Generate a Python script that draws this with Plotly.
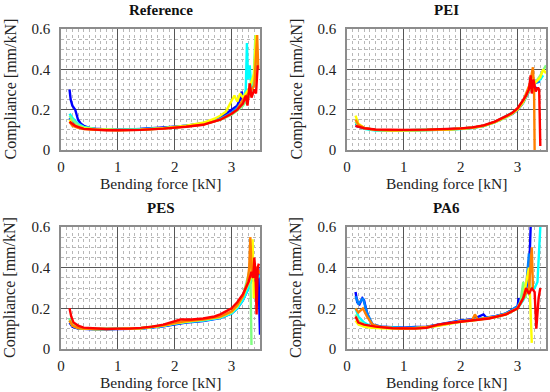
import plotly.graph_objects as go

# ---------------- data ----------------
COLORS = ["#0000ff", "#0080ff", "#00ffff", "#80ff80", "#ffff00", "#ff8000", "#ff0000"]
PANEL_TITLES = ["Reference", "PEI", "PES", "PA6"]
X_TICKS = [0, 1, 2, 3]
Y_TICKS = [0, 0.2, 0.4, 0.6]
Y_TICK_TEXT = ["0", "0.2", "0.4", "0.6"]

# Reference panel
REF_BLUE_X = [0.15, 0.17, 0.2, 0.22, 0.25, 0.28, 0.3, 0.35, 0.4, 0.5, 0.6, 0.8, 1.0, 1.2, 1.4, 1.6, 1.8, 2.0, 2.2, 2.4, 2.5, 2.6, 2.7, 2.8, 2.9, 3.0, 3.05, 3.1, 3.15, 3.18, 3.2, 3.25, 3.3, 3.35]
REF_BLUE_Y = [0.30, 0.25, 0.22, 0.21, 0.20, 0.17, 0.15, 0.13, 0.12, 0.11, 0.106, 0.102, 0.101, 0.102, 0.104, 0.107, 0.111, 0.116, 0.121, 0.128, 0.133, 0.14, 0.15, 0.165, 0.18, 0.20, 0.21, 0.22, 0.25, 0.29, 0.24, 0.27, 0.30, 0.33]
REF_AZURE_X = [0.15, 0.2, 0.3, 0.4, 0.6, 0.8, 1.0, 1.4, 1.8, 2.2, 2.5, 2.8, 3.0, 3.1, 3.2, 3.3, 3.4]
REF_AZURE_Y = [0.16, 0.14, 0.12, 0.11, 0.104, 0.1, 0.1, 0.103, 0.109, 0.12, 0.13, 0.155, 0.185, 0.21, 0.24, 0.28, 0.32]
REF_CYAN_X = [0.15, 0.2, 0.3, 0.4, 0.6, 0.8, 1.0, 1.4, 1.8, 2.2, 2.5, 2.8, 3.0, 3.1, 3.2, 3.25, 3.27, 3.29, 3.32, 3.35, 3.38, 3.4]
REF_CYAN_Y = [0.18, 0.16, 0.13, 0.115, 0.105, 0.101, 0.1, 0.102, 0.108, 0.118, 0.128, 0.152, 0.178, 0.2, 0.24, 0.3, 0.53, 0.35, 0.42, 0.3, 0.35, 0.31]
REF_GREEN_X = [0.15, 0.2, 0.3, 0.4, 0.6, 0.8, 1.0, 1.4, 1.8, 2.2, 2.5, 2.8, 3.0, 3.1, 3.2, 3.3, 3.38, 3.42, 3.44]
REF_GREEN_Y = [0.17, 0.15, 0.125, 0.112, 0.104, 0.1, 0.099, 0.101, 0.107, 0.117, 0.127, 0.15, 0.175, 0.195, 0.22, 0.26, 0.31, 0.57, 0.35]
REF_YELLOW_X = [0.15, 0.2, 0.3, 0.4, 0.6, 0.8, 1.0, 1.4, 1.8, 2.2, 2.5, 2.7, 2.8, 2.9, 3.0, 3.05, 3.1, 3.15, 3.2, 3.3, 3.4, 3.43]
REF_YELLOW_Y = [0.15, 0.13, 0.115, 0.108, 0.102, 0.1, 0.099, 0.101, 0.108, 0.12, 0.135, 0.155, 0.17, 0.19, 0.24, 0.27, 0.24, 0.28, 0.26, 0.3, 0.38, 0.57]
REF_ORANGE_X = [0.15, 0.2, 0.3, 0.4, 0.6, 0.8, 1.0, 1.4, 1.8, 2.2, 2.5, 2.8, 3.0, 3.1, 3.2, 3.3, 3.35, 3.4, 3.45, 3.47]
REF_ORANGE_Y = [0.14, 0.12, 0.11, 0.104, 0.1, 0.098, 0.098, 0.1, 0.106, 0.116, 0.126, 0.15, 0.18, 0.2, 0.25, 0.28, 0.3, 0.32, 0.57, 0.4]
REF_RED_X = [0.15, 0.2, 0.25, 0.4, 0.6, 0.8, 1.0, 1.4, 1.8, 2.0, 2.2, 2.5, 2.8, 3.0, 3.1, 3.2, 3.25, 3.28, 3.32, 3.35, 3.4, 3.43, 3.46]
REF_RED_Y = [0.14, 0.13, 0.12, 0.105, 0.1, 0.098, 0.098, 0.1, 0.106, 0.11, 0.115, 0.125, 0.15, 0.18, 0.2, 0.23, 0.27, 0.22, 0.33, 0.26, 0.3, 0.28, 0.42]

# PEI panel
PEI_BLUE_X = [0.15, 0.2, 0.3, 0.5, 0.8, 1.0, 1.4, 1.8, 2.0, 2.2, 2.4, 2.6, 2.8, 2.9, 3.0, 3.1, 3.2, 3.25, 3.3, 3.35]
PEI_BLUE_Y = [0.12, 0.115, 0.108, 0.1, 0.098, 0.098, 0.1, 0.103, 0.106, 0.11, 0.12, 0.138, 0.163, 0.178, 0.198, 0.235, 0.29, 0.33, 0.3, 0.31]
PEI_AZURE_X = [0.15, 0.2, 0.3, 0.5, 0.8, 1.0, 1.4, 1.8, 2.0, 2.2, 2.4, 2.6, 2.8, 2.9, 3.0, 3.1, 3.2, 3.3, 3.4]
PEI_AZURE_Y = [0.13, 0.12, 0.108, 0.1, 0.097, 0.097, 0.099, 0.102, 0.105, 0.11, 0.12, 0.14, 0.165, 0.18, 0.2, 0.24, 0.3, 0.33, 0.34]
PEI_CYAN_X = [0.15, 0.2, 0.3, 0.5, 0.8, 1.0, 1.4, 1.8, 2.0, 2.2, 2.4, 2.6, 2.8, 2.9, 3.0, 3.1, 3.2, 3.3, 3.4, 3.45]
PEI_CYAN_Y = [0.14, 0.12, 0.105, 0.097, 0.095, 0.096, 0.098, 0.101, 0.104, 0.109, 0.118, 0.138, 0.168, 0.184, 0.205, 0.24, 0.3, 0.34, 0.35, 0.37]
PEI_GREEN_X = [0.15, 0.2, 0.3, 0.5, 0.8, 1.0, 1.4, 1.8, 2.0, 2.2, 2.4, 2.6, 2.8, 2.9, 3.0, 3.1, 3.2, 3.3, 3.4, 3.5]
PEI_GREEN_Y = [0.14, 0.12, 0.107, 0.099, 0.097, 0.097, 0.099, 0.102, 0.105, 0.11, 0.119, 0.137, 0.162, 0.178, 0.2, 0.235, 0.29, 0.33, 0.37, 0.42]
PEI_YELLOW_X = [0.15, 0.2, 0.3, 0.5, 0.8, 1.0, 1.4, 1.8, 2.0, 2.2, 2.4, 2.6, 2.8, 2.9, 3.0, 3.1, 3.2, 3.3, 3.4, 3.45, 3.5]
PEI_YELLOW_Y = [0.17, 0.13, 0.11, 0.1, 0.097, 0.097, 0.099, 0.102, 0.105, 0.11, 0.12, 0.138, 0.165, 0.18, 0.2, 0.24, 0.3, 0.33, 0.36, 0.4, 0.38]
PEI_ORANGE_X = [0.15, 0.2, 0.3, 0.5, 0.8, 1.0, 1.4, 1.8, 2.0, 2.2, 2.4, 2.6, 2.8, 2.9, 3.0, 3.1, 3.15, 3.22, 3.27, 3.29, 3.3]
PEI_ORANGE_Y = [0.15, 0.125, 0.11, 0.1, 0.098, 0.098, 0.1, 0.103, 0.106, 0.11, 0.12, 0.14, 0.166, 0.182, 0.205, 0.245, 0.28, 0.33, 0.41, 0.3, 0.0]
PEI_RED_X = [0.15, 0.2, 0.3, 0.5, 0.8, 1.0, 1.4, 1.8, 2.0, 2.2, 2.4, 2.6, 2.8, 2.9, 3.0, 3.1, 3.15, 3.2, 3.23, 3.25, 3.28, 3.32, 3.36, 3.38, 3.4]
PEI_RED_Y = [0.12, 0.115, 0.108, 0.102, 0.1, 0.1, 0.101, 0.104, 0.107, 0.112, 0.122, 0.141, 0.167, 0.183, 0.207, 0.245, 0.27, 0.3, 0.37, 0.28, 0.35, 0.29, 0.31, 0.3, 0.02]

# PES panel
PES_BLUE_X = [0.15, 0.2, 0.3, 0.4, 0.6, 0.8, 1.0, 1.4, 1.8, 2.0, 2.2, 2.5, 2.8, 3.0, 3.1, 3.2, 3.3, 3.35, 3.4, 3.47, 3.5]
PES_BLUE_Y = [0.13, 0.11, 0.1, 0.098, 0.097, 0.097, 0.098, 0.1, 0.112, 0.122, 0.13, 0.138, 0.152, 0.175, 0.2, 0.24, 0.3, 0.38, 0.33, 0.4, 0.07]
PES_AZURE_X = [0.15, 0.2, 0.3, 0.4, 0.6, 0.8, 1.0, 1.4, 1.8, 2.0, 2.2, 2.5, 2.8, 3.0, 3.1, 3.2, 3.3, 3.4, 3.45]
PES_AZURE_Y = [0.14, 0.115, 0.102, 0.099, 0.098, 0.098, 0.099, 0.101, 0.113, 0.124, 0.132, 0.14, 0.155, 0.178, 0.205, 0.245, 0.31, 0.36, 0.33]
PES_CYAN_X = [0.15, 0.2, 0.3, 0.4, 0.6, 0.8, 1.0, 1.4, 1.8, 2.0, 2.2, 2.5, 2.8, 3.0, 3.1, 3.2, 3.3, 3.4, 3.45, 3.5]
PES_CYAN_Y = [0.15, 0.12, 0.104, 0.1, 0.098, 0.098, 0.099, 0.102, 0.114, 0.125, 0.133, 0.14, 0.153, 0.175, 0.2, 0.24, 0.3, 0.38, 0.35, 0.36]
PES_GREEN_X = [0.15, 0.2, 0.3, 0.4, 0.6, 0.8, 1.0, 1.4, 1.8, 2.0, 2.2, 2.5, 2.8, 3.0, 3.1, 3.2, 3.28, 3.33, 3.35]
PES_GREEN_Y = [0.15, 0.12, 0.105, 0.1, 0.098, 0.098, 0.099, 0.102, 0.115, 0.127, 0.135, 0.142, 0.156, 0.18, 0.21, 0.26, 0.34, 0.4, 0.02]
PES_YELLOW_X = [0.15, 0.2, 0.3, 0.4, 0.6, 0.8, 1.0, 1.4, 1.8, 2.0, 2.2, 2.5, 2.8, 3.0, 3.1, 3.2, 3.3, 3.35, 3.37, 3.39, 3.45]
PES_YELLOW_Y = [0.14, 0.115, 0.103, 0.1, 0.098, 0.098, 0.099, 0.102, 0.115, 0.126, 0.134, 0.143, 0.158, 0.183, 0.21, 0.26, 0.33, 0.36, 0.54, 0.25, 0.37]
PES_ORANGE_X = [0.15, 0.2, 0.3, 0.4, 0.6, 0.8, 1.0, 1.4, 1.8, 2.0, 2.2, 2.5, 2.8, 3.0, 3.1, 3.2, 3.28, 3.31, 3.33, 3.36, 3.4, 3.45, 3.5]
PES_ORANGE_Y = [0.14, 0.115, 0.103, 0.1, 0.098, 0.098, 0.099, 0.102, 0.116, 0.128, 0.137, 0.145, 0.16, 0.185, 0.215, 0.26, 0.33, 0.4, 0.55, 0.35, 0.38, 0.4, 0.37]
PES_RED_X = [0.15, 0.18, 0.22, 0.3, 0.4, 0.6, 0.8, 1.0, 1.2, 1.4, 1.6, 1.8, 2.0, 2.1, 2.3, 2.5, 2.7, 2.8, 2.9, 3.0, 3.1, 3.2, 3.25, 3.3, 3.35, 3.38, 3.4, 3.42, 3.44, 3.46, 3.48]
PES_RED_Y = [0.2, 0.16, 0.13, 0.115, 0.105, 0.1, 0.098, 0.1, 0.1, 0.104, 0.11, 0.12, 0.135, 0.145, 0.145, 0.15, 0.16, 0.17, 0.185, 0.2, 0.23, 0.27, 0.3, 0.33, 0.38, 0.35, 0.45, 0.38, 0.17, 0.4, 0.42]

# PA6 panel
PA6_BLUE_X = [0.15, 0.18, 0.22, 0.27, 0.3, 0.35, 0.4, 0.45, 0.6, 0.8, 1.0, 1.2, 1.4, 1.6, 1.8, 2.0, 2.2, 2.4, 2.45, 2.6, 2.8, 3.0, 3.02, 3.05, 3.1, 3.15, 3.2, 3.23]
PA6_BLUE_Y = [0.28, 0.23, 0.22, 0.25, 0.24, 0.18, 0.14, 0.12, 0.11, 0.107, 0.105, 0.108, 0.11, 0.12, 0.13, 0.14, 0.145, 0.17, 0.155, 0.16, 0.175, 0.21, 0.25, 0.22, 0.27, 0.3, 0.35, 0.6]
PA6_AZURE_X = [0.15, 0.2, 0.28, 0.35, 0.45, 0.6, 0.8, 1.0, 1.2, 1.4, 1.6, 1.8, 2.0, 2.2, 2.4, 2.6, 2.8, 3.0, 3.1, 3.15, 3.2, 3.22]
PA6_AZURE_Y = [0.26, 0.22, 0.25, 0.18, 0.12, 0.11, 0.106, 0.104, 0.106, 0.109, 0.118, 0.128, 0.138, 0.143, 0.152, 0.16, 0.175, 0.21, 0.26, 0.3, 0.47, 0.3]
PA6_CYAN_X = [0.15, 0.2, 0.3, 0.4, 0.6, 0.8, 1.0, 1.2, 1.4, 1.6, 1.8, 2.0, 2.2, 2.4, 2.6, 2.8, 3.0, 3.1, 3.2, 3.3, 3.35, 3.4]
PA6_CYAN_Y = [0.2, 0.16, 0.13, 0.115, 0.108, 0.104, 0.102, 0.104, 0.107, 0.116, 0.126, 0.136, 0.142, 0.15, 0.158, 0.172, 0.2, 0.24, 0.3, 0.3, 0.33, 0.6]
PA6_GREEN_X = [0.15, 0.2, 0.3, 0.4, 0.6, 0.8, 1.0, 1.2, 1.4, 1.6, 1.8, 2.0, 2.2, 2.4, 2.6, 2.8, 3.0, 3.05, 3.1, 3.15]
PA6_GREEN_Y = [0.17, 0.14, 0.12, 0.11, 0.105, 0.102, 0.1, 0.102, 0.106, 0.115, 0.125, 0.135, 0.14, 0.148, 0.156, 0.17, 0.2, 0.23, 0.33, 0.25]
PA6_YELLOW_X = [0.15, 0.2, 0.3, 0.4, 0.6, 0.8, 1.0, 1.2, 1.4, 1.6, 1.8, 2.0, 2.2, 2.4, 2.6, 2.8, 3.0, 3.1, 3.2, 3.25]
PA6_YELLOW_Y = [0.14, 0.12, 0.11, 0.105, 0.102, 0.1, 0.099, 0.101, 0.105, 0.114, 0.124, 0.134, 0.14, 0.148, 0.156, 0.17, 0.2, 0.25, 0.4, 0.03]
PA6_ORANGE_X = [0.15, 0.2, 0.28, 0.35, 0.45, 0.6, 0.8, 1.0, 1.2, 1.4, 1.6, 1.8, 2.0, 2.2, 2.25, 2.3, 2.4, 2.6, 2.8, 3.0, 3.1, 3.2, 3.25, 3.27]
PA6_ORANGE_Y = [0.2, 0.18, 0.2, 0.16, 0.12, 0.108, 0.104, 0.102, 0.104, 0.108, 0.117, 0.127, 0.136, 0.142, 0.17, 0.145, 0.15, 0.158, 0.172, 0.2, 0.25, 0.3, 0.5, 0.3]
PA6_RED_X = [0.15, 0.2, 0.3, 0.5, 0.8, 1.0, 1.2, 1.4, 1.6, 1.8, 2.0, 2.2, 2.5, 2.8, 3.0, 3.1, 3.15, 3.2, 3.25, 3.3, 3.33, 3.37, 3.4]
PA6_RED_Y = [0.16, 0.13, 0.12, 0.11, 0.102, 0.1, 0.1, 0.104, 0.12, 0.128, 0.135, 0.14, 0.15, 0.17, 0.2, 0.25, 0.3, 0.27, 0.3, 0.28, 0.1, 0.25, 0.3]

PANELS = [
    [(REF_BLUE_X, REF_BLUE_Y), (REF_AZURE_X, REF_AZURE_Y), (REF_CYAN_X, REF_CYAN_Y), (REF_GREEN_X, REF_GREEN_Y),
     (REF_YELLOW_X, REF_YELLOW_Y), (REF_ORANGE_X, REF_ORANGE_Y), (REF_RED_X, REF_RED_Y)],
    [(PEI_BLUE_X, PEI_BLUE_Y), (PEI_AZURE_X, PEI_AZURE_Y), (PEI_CYAN_X, PEI_CYAN_Y), (PEI_GREEN_X, PEI_GREEN_Y),
     (PEI_YELLOW_X, PEI_YELLOW_Y), (PEI_ORANGE_X, PEI_ORANGE_Y), (PEI_RED_X, PEI_RED_Y)],
    [(PES_BLUE_X, PES_BLUE_Y), (PES_AZURE_X, PES_AZURE_Y), (PES_CYAN_X, PES_CYAN_Y), (PES_GREEN_X, PES_GREEN_Y),
     (PES_YELLOW_X, PES_YELLOW_Y), (PES_ORANGE_X, PES_ORANGE_Y), (PES_RED_X, PES_RED_Y)],
    [(PA6_BLUE_X, PA6_BLUE_Y), (PA6_AZURE_X, PA6_AZURE_Y), (PA6_CYAN_X, PA6_CYAN_Y), (PA6_GREEN_X, PA6_GREEN_Y),
     (PA6_YELLOW_X, PA6_YELLOW_Y), (PA6_ORANGE_X, PA6_ORANGE_Y), (PA6_RED_X, PA6_RED_Y)],
]

# ---------------- layout ----------------
W, H = 550, 392
FONT = "Liberation Serif"
# plot areas in pixels: (left, right, top, bottom)
BOXES = [(61, 260, 29, 150), (347, 546, 29, 150), (61, 260, 227, 349), (347, 546, 227, 349)]

fig = go.Figure()
annotations = []
for i, (series, box) in enumerate(zip(PANELS, BOXES)):
    l, r, t, b = box
    xd = [l / W, r / W]
    yd = [1 - b / H, 1 - t / H]
    suffix = "" if i == 0 else str(i + 1)
    for (xs, ys), c in zip(series, COLORS):
        fig.add_trace(go.Scatter(x=xs, y=ys, mode="lines", line=dict(color=c, width=2.4),
                                 xaxis="x" + suffix, yaxis="y" + suffix, showlegend=False,
                                 hoverinfo="skip"))
    common = dict(showline=True, linecolor="#8c8c8c", linewidth=1.5, mirror=True,
                  showgrid=True, gridcolor="#555555", gridwidth=1, zeroline=False,
                  automargin=False, ticks="", tickfont=dict(family=FONT, size=15, color="#222"))
    fig.update_layout(**{
        "xaxis" + suffix: dict(domain=xd, range=[0, 3.5], tickvals=X_TICKS, anchor="y" + suffix,
                               minor=dict(dtick=0.1, showgrid=True, gridcolor="#b8b8b8", griddash="dot", gridwidth=1),
                               ticklabelstandoff=2, **common),
        "yaxis" + suffix: dict(domain=yd, range=[0, 0.6], tickvals=Y_TICKS, ticktext=Y_TICK_TEXT,
                               anchor="x" + suffix,
                               minor=dict(dtick=0.05, showgrid=True, gridcolor="#b8b8b8", griddash="dot", gridwidth=1),
                               ticklabelstandoff=6, **common),
    })
    cx = (l + r) / 2 / W
    annotations.append(dict(text="<b>" + PANEL_TITLES[i] + "</b>", x=cx, y=1 - (t - 19) / H,
                            xref="paper", yref="paper", showarrow=False,
                            xanchor="center", yanchor="middle",
                            font=dict(family=FONT, size=15, color="#111")))
    annotations.append(dict(text="Bending force [kN]", x=cx, y=1 - (b + 33) / H,
                            xref="paper", yref="paper", showarrow=False,
                            xanchor="center", yanchor="middle",
                            font=dict(family=FONT, size=15.5, color="#222")))
    annotations.append(dict(text="Compliance [mm/kN]", x=(l - 51) / W, y=1 - (t + b) / 2 / H,
                            xref="paper", yref="paper", showarrow=False, textangle=-90,
                            xanchor="center", yanchor="middle",
                            font=dict(family=FONT, size=16, color="#222")))

fig.update_layout(width=W, height=H, margin=dict(l=0, r=0, t=0, b=0),
                  paper_bgcolor="white", plot_bgcolor="white", annotations=annotations)
fig.write_html("out.html", config={"displayModeBar": False},
               post_script="document.body.style.margin='0';")
